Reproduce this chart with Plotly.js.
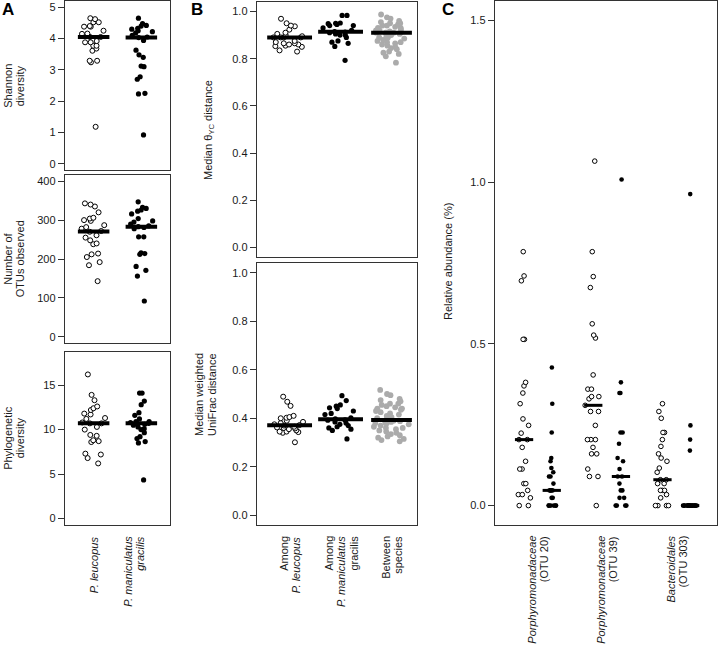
<!DOCTYPE html>
<html><head><meta charset="utf-8">
<script src="https://cdn.plot.ly/plotly-3.0.1.min.js"></script>
<style>html,body{margin:0;padding:0;background:#fff}#chart{width:720px;height:650px}</style>
</head><body><div id="chart"></div>
<script>
// ---------- data ----------
const shannonLeucopus = [4.65,4.62,4.52,4.52,4.40,4.38,4.38,4.25,4.16,4.15,4.05,4.05,3.92,3.88,3.88,3.77,3.77,3.68,3.61,3.29,3.29,3.24,1.18];
const shannonGracilis = [4.65,4.48,4.42,4.40,4.33,4.30,4.25,4.22,4.18,4.10,4.05,4.03,3.94,3.63,3.48,3.40,3.12,3.10,2.78,2.70,2.25,2.23,0.92];
const otusLeucopus = [343,340,335,320,306,304,300,298,287,282,278,272,270,261,255,248,240,238,214,212,205,192,184,143];
const otusGracilis = [347,333,330,326,323,316,304,298,295,290,285,283,281,278,257,257,216,214,212,181,171,156,92];
const pdLeucopus = [16.2,13.9,13.3,12.6,12.4,12.2,11.8,11.7,11.3,11.2,10.8,10.7,10.7,10.3,10.0,9.4,9.3,8.8,8.7,8.6,7.3,7.2,6.8,6.2];
const pdGracilis = [14.1,14.1,13.2,12.8,11.9,11.6,11.2,10.9,10.9,10.8,10.7,10.7,10.6,10.5,10.3,10.1,10.0,9.65,9.2,9.0,8.65,8.5,4.35];
const thetaLeucopus = [0.969,0.95,0.94,0.937,0.923,0.91,0.905,0.90,0.895,0.89,0.89,0.89,0.89,0.875,0.87,0.865,0.865,0.86,0.86,0.855,0.853,0.85,0.835,0.83];
const thetaGracilis = [0.983,0.983,0.951,0.95,0.948,0.945,0.94,0.94,0.93,0.92,0.915,0.913,0.91,0.905,0.90,0.90,0.89,0.875,0.87,0.865,0.852,0.793];
const thetaBetween = [0.987,0.975,0.97,0.96,0.955,0.95,0.95,0.945,0.94,0.94,0.935,0.93,0.93,0.925,0.92,0.92,0.915,0.912,0.91,0.91,0.91,0.91,0.91,0.905,0.90,0.895,0.89,0.89,0.885,0.88,0.875,0.87,0.87,0.865,0.86,0.855,0.85,0.845,0.84,0.83,0.825,0.82,0.81,0.783];
const unifracLeucopus = [0.489,0.468,0.451,0.41,0.405,0.402,0.40,0.39,0.385,0.38,0.375,0.372,0.37,0.365,0.362,0.36,0.358,0.355,0.35,0.345,0.345,0.343,0.34,0.301];
const unifracGracilis = [0.493,0.473,0.455,0.45,0.443,0.44,0.43,0.42,0.415,0.402,0.398,0.393,0.392,0.385,0.38,0.375,0.37,0.365,0.36,0.355,0.35,0.315];
const unifracBetween = [0.517,0.50,0.495,0.48,0.475,0.47,0.46,0.46,0.455,0.45,0.445,0.44,0.44,0.435,0.43,0.425,0.42,0.415,0.41,0.405,0.40,0.395,0.39,0.388,0.385,0.383,0.38,0.378,0.375,0.37,0.365,0.36,0.36,0.355,0.35,0.345,0.34,0.335,0.33,0.325,0.32,0.315,0.31,0.305];
const otu20Leucopus = [0.785,0.71,0.695,0.514,0.514,0.381,0.37,0.348,0.315,0.268,0.248,0.224,0.204,0.204,0.18,0.137,0.113,0.113,0.068,0.068,0.047,0.034,0.034,0.024,0.0,0.0];
const otu20Gracilis = [0.427,0.315,0.226,0.147,0.137,0.116,0.103,0.09,0.09,0.068,0.047,0.047,0.047,0.047,0.024,0.024,0,0,0,0,0,0];
const otu39Leucopus = [1.065,0.785,0.708,0.674,0.562,0.527,0.518,0.404,0.36,0.36,0.337,0.337,0.33,0.31,0.291,0.291,0.248,0.204,0.204,0.204,0.18,0.16,0.16,0.113,0.09,0.09,0.0];
const otu39Gracilis = [1.008,0.381,0.348,0.348,0.226,0.226,0.191,0.147,0.137,0.113,0.09,0.09,0.068,0.047,0.047,0.024,0.024,0,0,0,0];
const otu303Leucopus = [0.315,0.291,0.27,0.226,0.226,0.204,0.183,0.16,0.147,0.137,0.116,0.103,0.08,0.08,0.068,0.068,0.047,0.047,0.047,0.034,0.024,0,0,0,0];
const otu303Gracilis = [0.963,0.248,0.204,0.17,0,0,0,0,0,0,0,0,0,0,0,0,0,0,0,0,0,0];

const shannonTicks = [0,1,2,3,4,5];
const otuTicks = [0,100,200,300,400];
const pdTicks = [0,5,10,15];
const distTicks = [0,0.2,0.4,0.6,0.8,1.0];
const abundTicks = [0,0.5,1.0,1.5];

const labelsA = [['<i>P. leucopus</i>'], ['<i>P. maniculatus</i>','<i>gracilis</i>']];
const labelsB = [['Among','<i>P. leucopus</i>'], ['Among','<i>P. maniculatus</i>','gracilis'], ['Between','species']];
const labelsC = [['<i>Porphyromonadaceae</i>','(OTU 20)'], ['<i>Porphyromonadaceae</i>','(OTU 39)'], ['<i>Bacteroidales</i>','(OTU 303)']];

// ---------- layout helpers ----------
const W = 720, H = 650;
const FONT = 'Liberation Sans, Arial, Helvetica, sans-serif';
const TXT = '#1a1a1a';
const px = v => v / W;
const py = v => 1 - v / H;

const posA = [1, 2];
const posB = [1, 2, 3];
const posC = [1, 2, 3.5, 4.5, 6, 7];

const OPEN = {symbol:'circle', color:'white', line:{color:'black', width:1}};
const FILLED = {symbol:'circle', color:'black', line:{color:'black', width:0}};
const GRAY = {symbol:'circle', color:'#ababab', line:{color:'#ababab', width:0}};

function median(a) {
  const s = a.slice().sort((p, q) => p - q);
  const n = s.length;
  return n % 2 ? s[(n - 1) / 2] : (s[n / 2 - 1] + s[n / 2]) / 2;
}

const traces = [];
function strip(vals, pos, ax, style, size, jhw, mhw, mw) {
  const xa = ax === 1 ? 'x' : 'x' + ax, ya = ax === 1 ? 'y' : 'y' + ax;
  traces.push({
    type:'box', y: vals, x0: pos, xaxis: xa, yaxis: ya, width: 2 * jhw,
    boxpoints:'all', jitter: 1, pointpos: 0,
    line:{width:0, color:'rgba(0,0,0,0)'}, fillcolor:'rgba(0,0,0,0)',
    marker: Object.assign({size: size}, style),
    hoverinfo:'skip', showlegend:false
  });
  const m = median(vals);
  traces.push({
    type:'scatter', mode:'lines', x:[pos - mhw, pos + mhw], y:[m, m],
    xaxis: xa, yaxis: ya, line:{color:'black', width: mw},
    hoverinfo:'skip', showlegend:false
  });
}

// Panel A
strip(shannonLeucopus, posA[0], 1, OPEN, 5, 0.27, 0.33, 4);
strip(shannonGracilis, posA[1], 1, FILLED, 5.2, 0.27, 0.33, 4);
strip(otusLeucopus, posA[0], 2, OPEN, 5, 0.27, 0.33, 4);
strip(otusGracilis, posA[1], 2, FILLED, 5.2, 0.27, 0.33, 4);
strip(pdLeucopus, posA[0], 3, OPEN, 5, 0.27, 0.33, 4);
strip(pdGracilis, posA[1], 3, FILLED, 5.2, 0.27, 0.33, 4);
// Panel B
strip(thetaLeucopus, posB[0], 4, OPEN, 5, 0.37, 0.44, 4);
strip(thetaGracilis, posB[1], 4, FILLED, 5.2, 0.37, 0.44, 4);
strip(thetaBetween, posB[2], 4, GRAY, 5.8, 0.4, 0.4, 4);
strip(unifracLeucopus, posB[0], 5, OPEN, 5, 0.37, 0.44, 4);
strip(unifracGracilis, posB[1], 5, FILLED, 5.2, 0.37, 0.44, 4);
strip(unifracBetween, posB[2], 5, GRAY, 5.8, 0.4, 0.4, 4);
// Panel C
const cSeries = [otu20Leucopus, otu20Gracilis, otu39Leucopus, otu39Gracilis, otu303Leucopus, otu303Gracilis];
cSeries.forEach((s, i) => strip(s, posC[i], 6, i % 2 ? FILLED : OPEN, 4.6, 0.3, 0.33, 3));

function yax(top, bottom, range, tickvals, fmt, anchor) {
  const o = {
    domain:[py(bottom), py(top)], range: range, tickmode:'array', tickvals: tickvals,
    ticks:'outside', ticklen:6, tickwidth:1, tickcolor:'#333',
    showline:true, mirror:true, linecolor:'#333', linewidth:1.3,
    showgrid:false, zeroline:false, anchor: anchor, fixedrange:true,
    tickfont:{family:FONT, size:11, color:TXT}
  };
  if (fmt) o.tickformat = fmt;
  return o;
}
function xax(left, right, range, anchor) {
  return {
    domain:[px(left), px(right)], range: range, type:'linear',
    showline:true, mirror:true, linecolor:'#333', linewidth:1.3,
    showgrid:false, zeroline:false, ticks:'', showticklabels:false,
    anchor: anchor, fixedrange:true
  };
}

const annotations = [];
function textBlock(lines, xref, xval, yval, angle, spacing, anchorY, size, xshift) {
  const n = lines.length;
  lines.forEach((t, i) => {
    annotations.push({
      text: t, xref: xref, yref:'paper', x: xval, y: yval,
      xanchor:'center', yanchor: anchorY, textangle: angle,
      xshift: (xshift || 0) + (i - (n - 1) / 2) * spacing,
      showarrow:false, font:{family:FONT, size: size || 11, color:TXT}
    });
  });
}

// panel letters
[['A', 8], ['B', 197], ['C', 448]].forEach(([t, x]) => annotations.push({
  text:'<b>' + t + '</b>', xref:'paper', yref:'paper', x: px(x), y: py(10),
  xanchor:'center', yanchor:'middle', showarrow:false,
  font:{family:FONT, size:17, color:'#000'}
}));

// y axis titles
textBlock(['Shannon','diversity'], 'paper', px(0), py(86), -90, 12.5, 'middle', 11, 14);
textBlock(['Number of','OTUs observed'], 'paper', px(0), py(259), -90, 12.5, 'middle', 11, 14);
textBlock(['Phylogenetic','diversity'], 'paper', px(0), py(438), -90, 12.5, 'middle', 11, 14);
textBlock(['Median θ<sub>YC</sub> distance'], 'paper', px(0), py(130), -90, 12.5, 'middle', 11, 209);
textBlock(['Median weighted','UniFrac distance'], 'paper', px(0), py(395), -90, 13, 'middle', 11, 205.5);
textBlock(['Relative abundance (%)'], 'paper', px(0), py(262), -90, 12.5, 'middle', 11, 448);

// category labels
const labTop = py(534);
labelsA.forEach((l, i) => textBlock(l, 'x', posA[i], labTop, -90, 12, 'top', 11, i === 1 ? -8 : 0));
labelsB.forEach((l, i) => textBlock(l, 'x4', posB[i], labTop, -90, 12.5, 'top', 11, 0));
labelsC.forEach((l, i) => textBlock(l, 'x6', (posC[2 * i] + posC[2 * i + 1]) / 2, labTop, -90, 12.5, 'top', 11, 0));

const layout = {
  width: W, height: H, margin:{l:0, r:0, t:0, b:0},
  paper_bgcolor:'white', plot_bgcolor:'white', showlegend:false,
  font:{family:FONT, size:11, color:TXT},
  xaxis:  xax(65, 170, [0.4, 2.6], 'y'),
  yaxis:  yax(1, 170, [-0.2, 5.2], shannonTicks, null, 'x'),
  xaxis2: xax(65, 170, [0.4, 2.6], 'y2'),
  yaxis2: yax(175, 343, [-16, 416], otuTicks, null, 'x2'),
  xaxis3: xax(65, 170, [0.4, 2.6], 'y3'),
  yaxis3: yax(352, 525, [-0.72, 18.72], pdTicks, null, 'x3'),
  xaxis4: xax(257, 417, [0.36, 3.5], 'y4'),
  yaxis4: yax(2, 257, [-0.04, 1.04], distTicks, '.1f', 'x4'),
  xaxis5: xax(257, 417, [0.36, 3.5], 'y5'),
  yaxis5: yax(263, 525, [-0.04, 1.04], distTicks, '.1f', 'x5'),
  xaxis6: xax(495, 717, [-0.05, 7.97], 'y6'),
  yaxis6: yax(1, 525, [-0.06, 1.56], abundTicks, '.1f', 'x6'),
  annotations: annotations
};

Plotly.newPlot('chart', traces, layout, {displayModeBar:false, staticPlot:true});
</script></body></html>
